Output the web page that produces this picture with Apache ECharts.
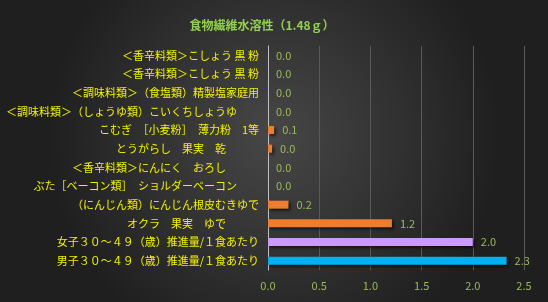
<!DOCTYPE html>
<html><head><meta charset="utf-8">
<script src="https://cdn.jsdelivr.net/npm/echarts@6/dist/echarts.min.js"></script>
<style>html,body{margin:0;padding:0;background:#2a2a2a}#c{width:548px;height:302px}</style>
</head><body><div id="c"></div>
<script>
var titleText = '食物繊維水溶性（1.48ｇ）';
var categories = [
  '＜香辛料類＞こしょう 黒 粉',
  '＜香辛料類＞こしょう 黒 粉',
  '＜調味料類＞（食塩類）精製塩家庭用',
  '＜調味料類＞（しょうゆ類）こいくちしょうゆ　　',
  'こむぎ　［小麦粉］　薄力粉　1等',
  'とうがらし　果実　乾　　　',
  '＜香辛料類＞にんにく　おろし　　　',
  'ぶた［ベーコン類］　ショルダーベーコン　　',
  '（にんじん類）にんじん根皮むきゆで',
  'オクラ　果実　ゆで　　　',
  '女子３０～４９（歳）推進量/１食あたり',
  '男子３０～４９（歳）推進量/１食あたり'
];
var values = [0, 0, 0, 0, 0.06, 0.04, 0, 0, 0.2, 1.21, 2.0, 2.33];
var barColors = ['#ED7D31','#ED7D31','#ED7D31','#ED7D31','#ED7D31','#ED7D31','#ED7D31','#ED7D31','#ED7D31','#ED7D31','#CC99FF','#00B0F0'];
var xTicks = [0, 0.5, 1.0, 1.5, 2.0, 2.5];

var chart = echarts.init(document.getElementById('c'));
chart.setOption({
  backgroundColor: {type:'radial', x:0.5, y:0.45, r:0.75, colorStops:[{offset:0,color:'#474747'},{offset:1,color:'#1f1f1f'}]},
  animation:false,
  title:{text:titleText, left:257, top:14, textAlign:'center',
    textStyle:{color:'#92D050', fontSize:12, fontWeight:'bold', fontFamily:'Noto Sans CJK JP'}},
  grid:{left:268, right:24, top:46, bottom:32, containLabel:false},
  xAxis:{type:'value', min:xTicks[0], max:xTicks[xTicks.length-1], interval:0.5,
    axisLine:{show:false}, axisTick:{show:false},
    splitLine:{lineStyle:{color:'#5a5a5a', width:1}},
    axisLabel:{color:'#9BBB59', fontSize:11, fontFamily:'Noto Sans CJK JP', margin:10,
      formatter:function(v){return v.toFixed(1);}}},
  yAxis:{type:'category', data:categories, inverse:true,
    axisLine:{lineStyle:{color:'#bfbfbf', width:1}}, axisTick:{show:false},
    axisLabel:{color:'#F2F200', fontSize:11, fontFamily:'Noto Sans CJK JP', margin:9}},
  series:[{type:'bar', barWidth:8,
    data: values.map(function(v,i){return {value:v, itemStyle:{color:barColors[i]}};}),
    itemStyle:{shadowColor:'rgba(0,0,0,0.6)', shadowBlur:3, shadowOffsetX:2, shadowOffsetY:2},
    label:{show:true, position:'right', distance:8, color:'#9BBB59', fontSize:11, fontFamily:'Noto Sans CJK JP',
      formatter:function(p){return p.value.toFixed(1);}}}]
});
</script></body></html>
